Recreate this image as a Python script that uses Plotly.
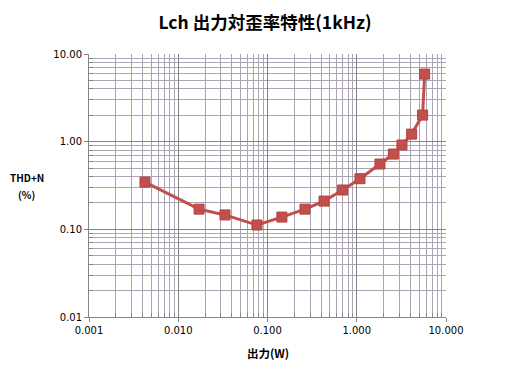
import plotly.graph_objects as go

power_w = [0.00424, 0.0171, 0.0334, 0.0762, 0.145, 0.263, 0.43, 0.695, 1.087, 1.82, 2.57, 3.21, 4.12, 5.47, 5.76]
thd_pct = [0.346, 0.170, 0.146, 0.112, 0.138, 0.170, 0.210, 0.281, 0.378, 0.556, 0.722, 0.917, 1.22, 2.01, 5.9]

x_tickvals = [0.001, 0.01, 0.1, 1, 10]
x_ticktext = ["0.001", "0.010", "0.100", "1.000", "10.000"]
y_tickvals = [0.01, 0.1, 1, 10]
y_ticktext = ["0.01", "0.10", "1.00", "10.00"]

x_minor = [m * 10.0 ** e for e in range(-3, 1) for m in range(2, 10)]
y_minor = [m * 10.0 ** e for e in range(-2, 1) for m in range(2, 10)]

color = "#C0504D"
fig = go.Figure()
fig.add_trace(go.Scatter(
    x=power_w, y=thd_pct, mode="lines+markers",
    line=dict(color=color, width=3),
    marker=dict(symbol="square", size=10, color=color, line=dict(color="#B8403D", width=1)),
    showlegend=False,
))

tickfont = dict(family="DejaVu Sans", size=10, color="#000000")
fig.update_xaxes(
    type="log", range=[-3, 1], tickvals=x_tickvals, ticktext=x_ticktext,
    showgrid=True, gridcolor="#858585", gridwidth=1,
    minor=dict(tickvals=x_minor, showgrid=True, gridcolor="#ABA4B4", gridwidth=1,
               ticks="inside", ticklen=4, tickcolor="#868686"),
    showline=True, linecolor="#868686", linewidth=1,
    ticks="outside", ticklen=4, tickcolor="#868686",
    tickfont=tickfont, zeroline=False,
)
fig.update_yaxes(
    type="log", range=[-2, 1], tickvals=y_tickvals, ticktext=y_ticktext,
    showgrid=True, gridcolor="#858585", gridwidth=1,
    minor=dict(tickvals=y_minor, showgrid=True, gridcolor="#ABA4B4", gridwidth=1,
               ticks="inside", ticklen=4, tickcolor="#868686"),
    showline=True, linecolor="#868686", linewidth=1,
    ticks="outside", ticklen=4, tickcolor="#868686",
    tickfont=tickfont, zeroline=False,
)

fig.update_layout(
    width=514, height=384,
    margin=dict(l=81, r=76, t=46, b=75),
    paper_bgcolor="white", plot_bgcolor="white",
    title=dict(text="<b>Lch 出力対歪率特性(1kHz)</b>", x=0.5, xanchor="center", y=0.962, yanchor="middle",
               font=dict(family="Noto Sans CJK JP", size=17.5, color="#000000")),
    annotations=[
        dict(text="<b>THD+N</b>", xref="paper", yref="paper", x=-0.174, y=0.529,
             xanchor="center", yanchor="middle", showarrow=False,
             font=dict(family="Noto Sans CJK JP", size=10, color="#000000")),
        dict(text="<b>(%)</b>", xref="paper", yref="paper", x=-0.174, y=0.466,
             xanchor="center", yanchor="middle", showarrow=False,
             font=dict(family="Noto Sans CJK JP", size=10, color="#000000")),
        dict(text="<b>出力(W)</b>", xref="paper", yref="paper", x=0.5, y=-0.137,
             xanchor="center", yanchor="middle", showarrow=False,
             font=dict(family="Noto Sans CJK JP", size=11.5, color="#000000")),
    ],
)

fig.write_html("out.html")
